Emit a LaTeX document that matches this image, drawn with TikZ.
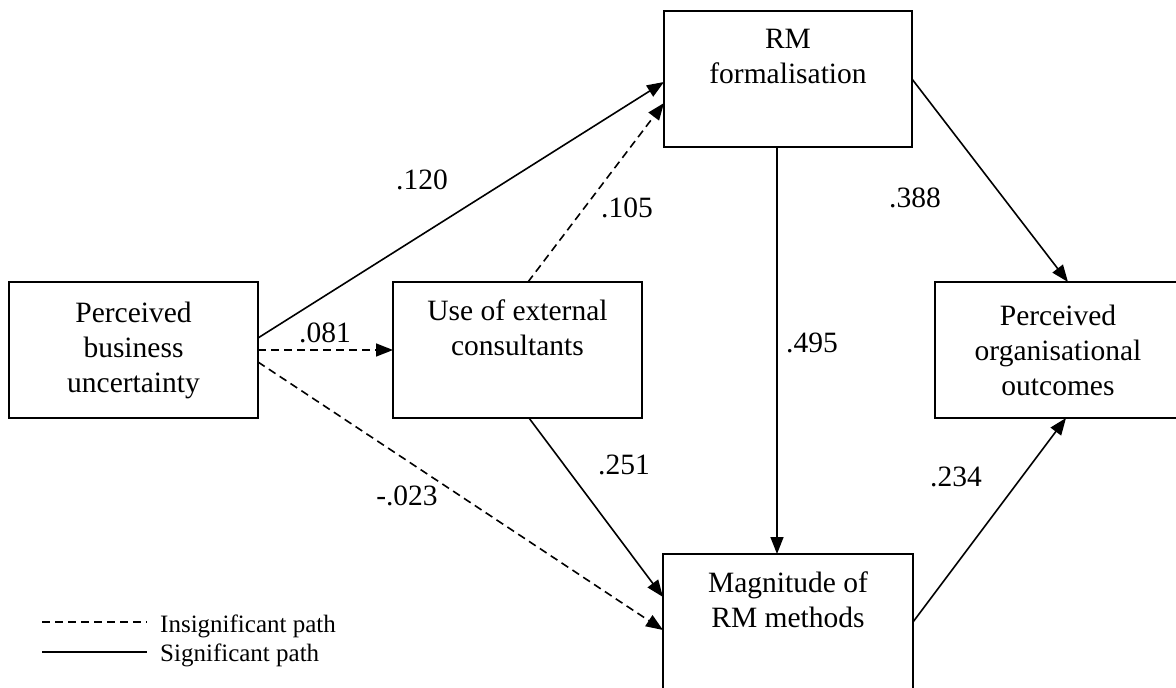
\documentclass[tikz,border=0pt]{standalone}
\usepackage{fontspec}
\setmainfont{Liberation Serif}
\usetikzlibrary{arrows.meta}
\tikzset{
  box/.style={draw, line width=1.6pt, outer sep=0pt, inner sep=0pt, align=center,
    font=\fontsize{29.5}{35}\selectfont},
  conn/.style={line width=1.6pt, -{Triangle[length=17pt,width=13pt]}},
  insig/.style={conn, dash pattern=on 8pt off 5pt},
  coef/.style={font=\fontsize{29.5}{35}\selectfont, inner sep=0pt},
  legline/.style={line width=1.6pt},
  legtext/.style={font=\fontsize{25}{31}\selectfont, inner sep=0pt, anchor=base west}
}
\begin{document}
\begin{tikzpicture}[x=1pt,y=-1pt]
\useasboundingbox (0,0) rectangle (1176,688);
\node[box, minimum width=249pt, minimum height=136pt] (pbu) at (133.5,350) {Perceived\\business\\uncertainty};
\node[box, minimum width=249pt, minimum height=136pt] (uec) at (517.5,350) {Use of external\\consultants\\\strut};
\node[box, minimum width=248pt, minimum height=136pt] (rm) at (788,79) {RM\\formalisation\\\strut};
\node[box, minimum width=246pt, minimum height=136pt] (po) at (1058,350) {Perceived\\organisational\\outcomes};
\node[box, minimum width=250pt, minimum height=136pt] (mag) at (788,622) {Magnitude of\\RM methods\\\strut};

\draw[conn] ([yshift=12pt]pbu.east) -- ([yshift=-3pt]rm.west);
\draw[insig] (pbu.east) -- (uec.west);
\draw[insig] ([yshift=-12pt]pbu.east) -- ([yshift=-8pt]mag.west);
\draw[insig] ([xshift=10.5pt]uec.north) -- ([yshift=-24pt]rm.west);
\draw[conn] ([xshift=11.5pt]uec.south) -- ([yshift=25pt]mag.west);
\draw[conn] ([xshift=-11pt]rm.south) -- ([xshift=-11pt]mag.north);
\draw[conn] (rm.east) -- ([xshift=10pt]po.north);
\draw[conn] (mag.east) -- ([xshift=8pt]po.south);

\node[coef] (c120) at (422,180) {.120};
\node[coef] (c105) at (627,208) {.105};
\node[coef] (c081) at (325,333) {.081};
\node[coef] (c023) at (407,496) {-.023};
\node[coef] (c251) at (624,465) {.251};
\node[coef] (c495) at (812,343) {.495};
\node[coef] (c388) at (915,198) {.388};
\node[coef] (c234) at (956,477) {.234};

\coordinate (l1a) at (42,622);
\coordinate (l1b) at (147,622);
\coordinate (l2a) at (42,652);
\coordinate (l2b) at (147,652);
\draw[legline, dash pattern=on 8pt off 5pt] (l1a) -- (l1b);
\draw[legline] (l2a) -- (l2b);
\node[legtext] (lt1) at (160,632) {Insignificant path};
\node[legtext] (lt2) at (160,661) {Significant path};
\end{tikzpicture}
\end{document}
